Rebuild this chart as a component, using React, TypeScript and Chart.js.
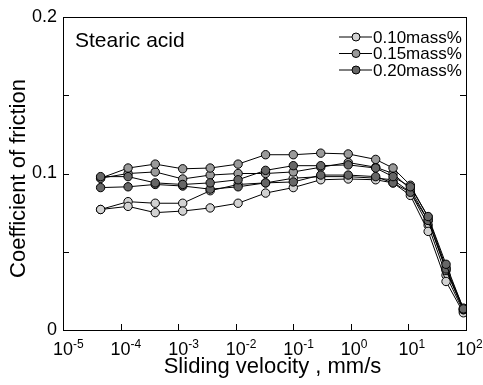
import React, { useEffect, useRef } from "react";
import { Chart, registerables } from "chart.js";

Chart.register(...registerables);

const velocity = [4.5e-5, 1.35e-4, 4e-4, 1.2e-3, 3.6e-3, 0.011, 0.033, 0.1, 0.3, 0.9, 2.7, 5.4, 10.8, 22, 45, 90];

const light1 = [0.077, 0.079, 0.075, 0.076, 0.078, 0.081, 0.0875, 0.091, 0.096, 0.0965, 0.096, 0.094, 0.086, 0.063, 0.031, 0.011];
const light2 = [0.077, 0.082, 0.081, 0.081, 0.089, 0.093, 0.094, 0.097, 0.098, 0.098, 0.097, 0.096, 0.088, 0.067, 0.035, 0.012];
const medium1 = [0.097, 0.1035, 0.106, 0.103, 0.1035, 0.106, 0.112, 0.112, 0.113, 0.1125, 0.109, 0.1035, 0.0925, 0.072, 0.04, 0.014];
const medium2 = [0.097, 0.1, 0.101, 0.0965, 0.099, 0.1, 0.1, 0.101, 0.104, 0.107, 0.104, 0.1, 0.09, 0.07, 0.038, 0.013];
const dark1 = [0.098, 0.098, 0.094, 0.093, 0.094, 0.096, 0.102, 0.105, 0.105, 0.1055, 0.1035, 0.098, 0.0915, 0.0725, 0.042, 0.0135];
const dark2 = [0.091, 0.0915, 0.093, 0.092, 0.09, 0.0915, 0.094, 0.0946, 0.099, 0.099, 0.098, 0.094, 0.088, 0.07, 0.039, 0.013];

const legendLabels = ["0.10mass%", "0.15mass%", "0.20mass%"];
const seriesColors = ["#d2d2d2", "#9a9a9a", "#666666"];
const xTickExponents = [-5, -4, -3, -2, -1, 0, 1, 2];
const yTickValues = [0, 0.05, 0.1, 0.15, 0.2];
const yTickLabels = ["0", "", "0.1", "", "0.2"];
const xTitle = "Sliding velocity , mm/s";
const yTitle = "Coefficient of friction";
const panelLabel = "Stearic acid";

const FONT = '"Liberation Sans", Arial, sans-serif';

function toPoints(ys: number[]) {
  return ys.map((y, i) => ({ x: velocity[i], y }));
}

const decorPlugin = {
  id: "decor",
  afterDraw(chart: any) {
    const ctx = chart.ctx;
    const { left, right, top, bottom } = chart.chartArea;
    const xs = chart.scales.x;
    const ys = chart.scales.y;
    ctx.save();
    ctx.strokeStyle = "#000";
    ctx.fillStyle = "#000";
    ctx.lineWidth = 1;
    // frame
    ctx.strokeRect(Math.round(left) + 0.5, Math.round(top) + 0.5, Math.round(right - left), Math.round(bottom - top));
    // x ticks
    ctx.beginPath();
    xTickExponents.forEach((e) => {
      const px = Math.round(xs.getPixelForValue(Math.pow(10, e))) + 0.5;
      ctx.moveTo(px, bottom);
      ctx.lineTo(px, bottom - 6);
    });
    // y ticks left and right
    yTickValues.forEach((v) => {
      const py = Math.round(ys.getPixelForValue(v)) + 0.5;
      ctx.moveTo(left, py);
      ctx.lineTo(left + 6, py);
      ctx.moveTo(right, py);
      ctx.lineTo(right - 6, py);
    });
    ctx.stroke();
    // y tick labels
    ctx.font = `18px ${FONT}`;
    ctx.textAlign = "right";
    ctx.textBaseline = "middle";
    yTickValues.forEach((v, i) => {
      if (!yTickLabels[i]) return;
      ctx.fillText(yTickLabels[i], left - 6, ys.getPixelForValue(v));
    });
    // x tick labels with superscript
    xTickExponents.forEach((e) => {
      const px = xs.getPixelForValue(Math.pow(10, e));
      ctx.font = `18px ${FONT}`;
      ctx.textAlign = "center";
      ctx.textBaseline = "alphabetic";
      const baseW = ctx.measureText("10").width;
      ctx.fillText("10", px, bottom + 25);
      ctx.font = `12px ${FONT}`;
      ctx.textAlign = "left";
      ctx.fillText(String(e), px + baseW / 2, bottom + 18);
    });
    // x title
    ctx.font = `22px ${FONT}`;
    ctx.textAlign = "center";
    ctx.textBaseline = "alphabetic";
    ctx.fillText(xTitle, (left + right) / 2 + 8, bottom + 43);
    // y title
    ctx.save();
    ctx.translate(19, (top + bottom) / 2 + 5);
    ctx.rotate(-Math.PI / 2);
    ctx.textBaseline = "middle";
    ctx.fillText(yTitle, 0, 0);
    ctx.restore();
    // panel label
    ctx.font = `21px ${FONT}`;
    ctx.textAlign = "left";
    ctx.textBaseline = "alphabetic";
    ctx.fillText(panelLabel, left + 12, top + 30);
    // legend
    ctx.font = `17px ${FONT}`;
    legendLabels.forEach((lab, i) => {
      const y = top + 20 + i * 16.5;
      const x0 = right - 127;
      ctx.beginPath();
      ctx.moveTo(x0, y);
      ctx.lineTo(x0 + 33, y);
      ctx.stroke();
      ctx.beginPath();
      ctx.arc(x0 + 17, y, 4, 0, Math.PI * 2);
      ctx.fillStyle = seriesColors[i];
      ctx.fill();
      ctx.stroke();
      ctx.fillStyle = "#000";
      ctx.textBaseline = "middle";
      ctx.fillText(lab, x0 + 34, y + 1);
    });
    ctx.restore();
  },
};

export default function App() {
  const ref = useRef<HTMLCanvasElement>(null);
  useEffect(() => {
    document.body.style.margin = "0";
    const series = [
      { d: light1, c: 0, o: 2 },
      { d: light2, c: 0, o: 2 },
      { d: medium1, c: 1, o: 1 },
      { d: medium2, c: 1, o: 1 },
      { d: dark1, c: 2, o: 0 },
      { d: dark2, c: 2, o: 0 },
    ];
    const chart = new Chart(ref.current!, {
      type: "line",
      data: {
        datasets: series.map((s, i) => ({
          label: legendLabels[s.c] + "_" + i,
          data: toPoints(s.d),
          order: s.o,
          borderColor: "#000",
          borderWidth: 1,
          pointRadius: 4.2,
          pointBorderWidth: 1,
          pointBorderColor: "#000",
          pointBackgroundColor: seriesColors[s.c],
          tension: 0,
        })),
      },
      options: {
        responsive: false,
        animation: false,
        layout: { padding: { top: 17, right: 17, left: 0, bottom: 0 } },
        plugins: { legend: { display: false }, tooltip: { enabled: false } },
        scales: {
          x: {
            type: "logarithmic",
            min: 1e-5,
            max: 100,
            ticks: { display: false },
            grid: { display: false, drawTicks: false },
            border: { display: false },
            afterFit: (s: any) => {
              s.height = 55;
            },
          },
          y: {
            type: "linear",
            min: 0,
            max: 0.2,
            ticks: { display: false },
            grid: { display: false, drawTicks: false },
            border: { display: false },
            afterFit: (s: any) => {
              s.width = 63;
            },
          },
        },
      },
      plugins: [decorPlugin],
    });
    return () => chart.destroy();
  }, []);
  return <canvas ref={ref} width={483} height={385} />;
}
